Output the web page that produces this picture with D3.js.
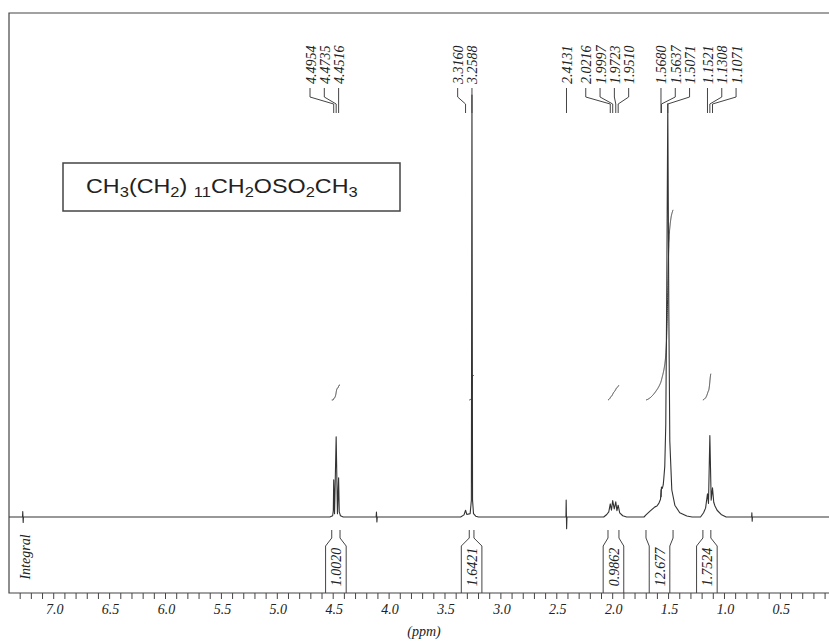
<!DOCTYPE html>
<html><head><meta charset="utf-8">
<script src="https://cdn.jsdelivr.net/npm/d3@7"></script>
<style>body{margin:0;background:#fff}svg{display:block}</style>
</head><body><svg id="c" width="829" height="641"></svg>
<script>
// ---------------- data ----------------
const peakLabels = [4.4954,4.4735,4.4516,3.3160,3.2588,2.4131,2.0216,1.9997,1.9723,1.9510,1.5680,1.5637,1.5071,1.1521,1.1308,1.1071];
const labelGroupOf = [0,0,0,1,1,2,3,3,3,3,4,4,4,5,5,5];
const groupAlign = [1,1,0,0.7,0,0];
const integralValues = ["1.0020","1.6421","0.9862","12.677","1.7524"];
const integralFrom = [4.513,3.283,2.042,1.702,1.193];
const integralTo   = [4.439,3.241,1.944,1.460,1.122];
const tickLabels = ["7.0","6.5","6.0","5.5","5.0","4.5","4.0","3.5","3.0","2.5","2.0","1.5","1.0","0.5"];
const minorTicks = d3.range(73, 0, -1).map(d => d / 10);
const formula = [["CH",0],["3",1],["(CH",0],["2",1],[") ",0],["11",1],["CH",0],["2",1],["OSO",0],["2",1],["CH",0],["3",1]];
// spectrum: [ppm, intensity (% of tallest)]
const spectrum = [
 [7.40,0],[7.279,0],[7.277,1.3],[7.273,-1.3],[7.271,0],
 [4.53,0],[4.505,0.3],[4.499,1.5],[4.4954,8.8],[4.488,0.8],[4.4735,19.0],[4.462,0.8],[4.4516,9.3],[4.446,1.2],[4.435,0.3],[4.41,0],
 [4.116,0],[4.113,1.2],[4.109,-1.2],[4.106,0],
 [3.36,0],[3.33,0.5],[3.316,1.6],[3.305,0.6],[3.275,0.8],[3.264,4],[3.2588,100],[3.2535,4],[3.245,0.8],[3.225,0.2],[3.20,0],
 [2.418,0],[2.416,4.0],[2.412,-2.8],[2.409,0],
 [2.08,0],[2.053,0.6],[2.035,1.2],[2.0216,3.1],[2.011,1.6],[1.9997,3.9],[1.986,1.9],[1.9723,3.6],[1.962,1.5],[1.9510,2.8],[1.937,1.0],[1.91,0.3],[1.875,0],
 [1.72,0],[1.702,0.5],[1.666,1.4],[1.622,2.4],[1.604,2.6],[1.586,3.3],[1.572,4.2],[1.5680,6.5],[1.5658,4.8],[1.5637,7.1],[1.556,6.8],[1.548,7.6],[1.543,9],[1.534,12],[1.525,22],[1.516,55],[1.5071,97.9],[1.498,50],[1.489,18],[1.471,6.4],[1.444,2.8],[1.400,1.0],[1.337,0.25],[1.29,0],
 [1.214,0],[1.187,1.0],[1.169,2.1],[1.1521,5.5],[1.143,3.2],[1.1308,19.3],[1.119,4.0],[1.1071,6.9],[1.096,3.5],[1.085,2.6],[1.066,1.6],[1.030,0.6],[0.985,0],
 [0.757,0],[0.755,1.0],[0.752,-1.0],[0.750,0],
 [0.065,0]
];

// ---------------- layout ----------------
const svg = d3.select("#c");
const L = 9, R = 829, T = 13, axisY = 593, baseY = 517;
const x = d3.scaleLinear().domain([7.40, 0.065]).range([L, R]);
const y = d3.scaleLinear().domain([0, 100]).range([baseY, 95]);
const yI = d3.scaleLinear().domain([0, 10]).range([400, 250]);
const ink = "#222", lineC = "#333";
const serif = "'Liberation Serif','Times New Roman',serif";

// frame
svg.append("path").attr("d", `M${R},${T}H${L}V${axisY}H${R}`)
  .attr("fill","none").attr("stroke","#444").attr("stroke-width",1.2);

// axis ticks
svg.append("g").selectAll("line").data(minorTicks).join("line")
  .attr("x1", d => x(d)).attr("x2", d => x(d))
  .attr("y1", axisY).attr("y2", axisY + 6)
  .attr("stroke","#444").attr("stroke-width",1);
svg.append("g").selectAll("text").data(tickLabels).join("text")
  .attr("x", d => x(+d) + 1).attr("y", 614)
  .attr("text-anchor","middle").attr("font-family",serif).attr("font-style","italic")
  .attr("font-size",14).attr("fill",ink).text(d => d);
svg.append("text").attr("x", 424).attr("y", 636).attr("text-anchor","middle")
  .attr("font-family",serif).attr("font-style","italic").attr("font-size",14).attr("fill",ink).text("(ppm)");

// spectrum
const line = d3.line().x(d => x(d[0])).y(d => y(d[1]));
svg.append("path").datum(spectrum).attr("d", line)
  .attr("fill","none").attr("stroke",lineC).attr("stroke-width",1.1).attr("stroke-linejoin","round");

// integral curves (cumulative area under spectrum)
const asc = spectrum.slice().sort((a,b) => a[0]-b[0]);
const bis = d3.bisector(d => d[0]).left;
function interp(p){
  const i = bis(asc, p);
  if (i <= 0) return asc[0][1];
  if (i >= asc.length) return asc[asc.length-1][1];
  const a = asc[i-1], b = asc[i];
  const t = (p - a[0]) / (b[0] - a[0]);
  return a[1] + t*(b[1]-a[1]);
}
integralValues.forEach((v, k) => {
  const f = integralFrom[k], t = integralTo[k], step = 0.0004;
  const pts = []; let cum = 0, prev = Math.max(0, interp(f));
  pts.push([f, 0]);
  for (let p = f - step; p >= t - 1e-9; p -= step) {
    const cur = Math.max(0, interp(p));
    cum += (prev + cur) / 2 * step; prev = cur;
    pts.push([p, cum]);
  }
  const tot = cum || 1;
  const scaled = pts.map(d => [d[0], d[1] / tot * (+v)]);
  svg.append("path").datum(scaled)
    .attr("d", d3.line().x(d => x(d[0])).y(d => yI(d[1])).curve(d3.curveBasis))
    .attr("fill","none").attr("stroke",lineC).attr("stroke-width",1);
});

// integral brackets and values
integralValues.forEach((v, k) => {
  const x1 = x(integralFrom[k]), x2 = x(integralTo[k]), cx = (x1 + x2) / 2, hw = 10.3;
  svg.append("path")
    .attr("d", `M${x1},530V538L${cx-hw},546V${axisY}M${x2},530V538L${cx+hw},546V${axisY}`)
    .attr("fill","none").attr("stroke","#444").attr("stroke-width",1);
  svg.append("text").attr("transform", `translate(${cx+5.5},567) rotate(-90)`)
    .attr("text-anchor","middle").attr("font-family",serif).attr("font-style","italic")
    .attr("font-size",14).attr("fill",ink).text(v);
});
svg.append("text").attr("transform", `translate(30,557) rotate(-90)`)
  .attr("text-anchor","middle").attr("font-family",serif).attr("font-style","italic")
  .attr("font-size",14).attr("fill",ink).text("Integral");

// peak labels with leaders
const spacing = 14.3;
const labelX = new Array(peakLabels.length);
d3.groups(peakLabels.map((p,i) => i), i => labelGroupOf[i]).forEach(([g, idx]) => {
  const px = idx.map(i => x(peakLabels[i]));
  const spanL = spacing * (idx.length - 1), spanP = px[px.length-1] - px[0];
  const first = px[0] - groupAlign[g] * (spanL - spanP);
  idx.forEach((i, j) => labelX[i] = first + j * spacing);
});
peakLabels.forEach((p, i) => {
  const lx = labelX[i], px = x(p);
  svg.append("path").attr("d", `M${lx},88V97L${px},104V113`)
    .attr("fill","none").attr("stroke","#444").attr("stroke-width",1);
  svg.append("text").attr("transform", `translate(${lx+5.5},84) rotate(-90)`)
    .attr("font-family",serif).attr("font-style","italic").attr("font-size",14)
    .attr("fill",ink).text(p.toFixed(4));
});

// compound box
svg.append("rect").attr("x",63).attr("y",163).attr("width",337).attr("height",48)
  .attr("fill","#fff").attr("stroke","#444").attr("stroke-width",1.5);
const ftg = svg.append("g");
const ft = ftg.append("text").attr("x",0).attr("y",0)
  .attr("font-family","'Liberation Sans',Arial,sans-serif").attr("font-size",20.5).attr("fill",ink);
let prevSub = 0;
formula.forEach(([s, sub]) => {
  ft.append("tspan").attr("font-size", sub ? 14.5 : 20.5)
    .attr("dy", sub === prevSub ? 0 : (sub ? 4 : -4)).text(s);
  prevSub = sub;
});
const w = ft.node().getComputedTextLength();
ftg.attr("transform", `translate(86,193) scale(${272 / w},1)`);
</script></body></html>
